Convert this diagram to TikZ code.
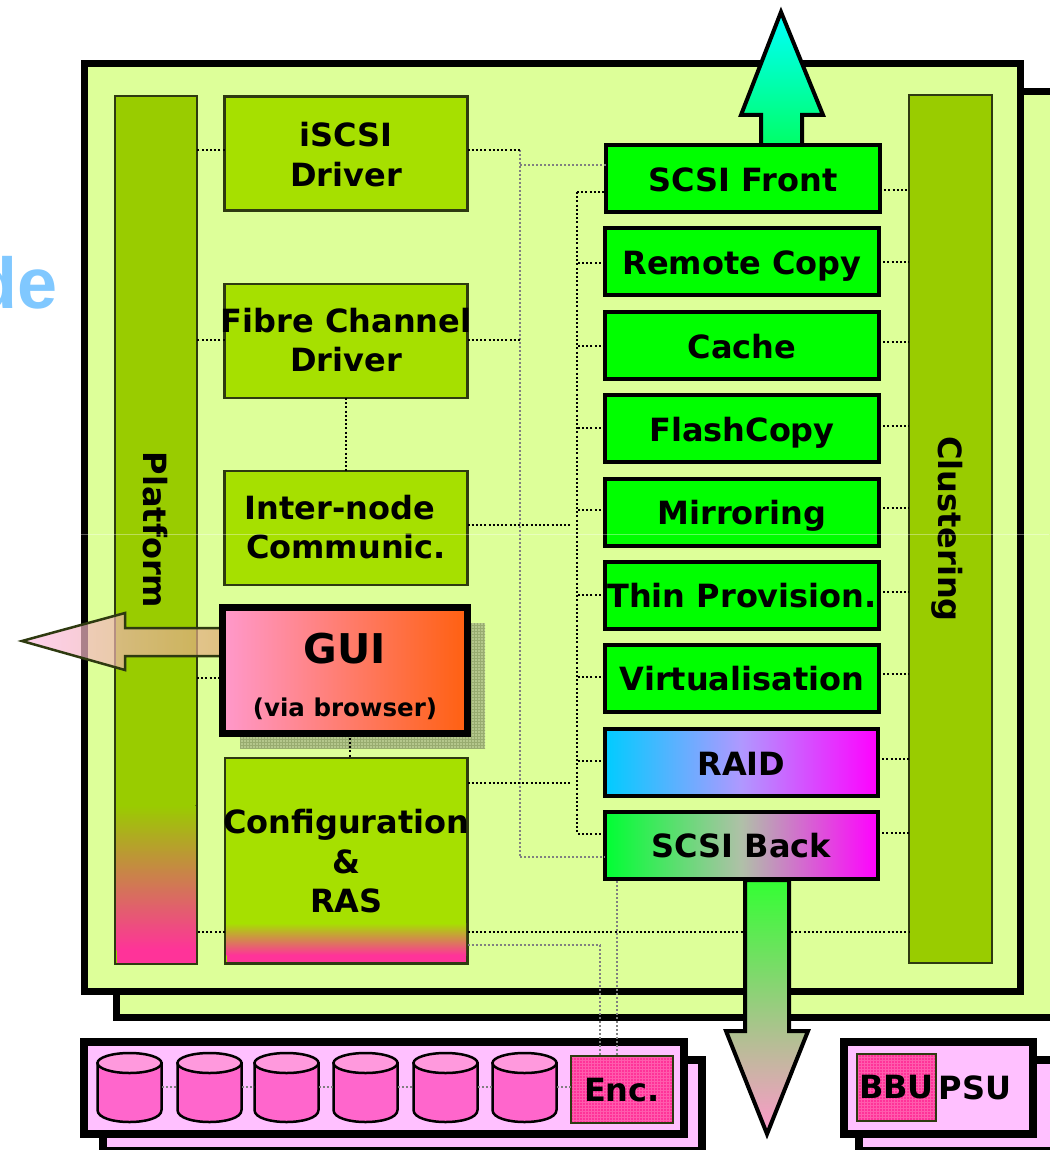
\documentclass[tikz,border=0pt]{standalone}
\usepackage{fontspec}
\setmainfont{DejaVu Sans}
\newfontfamily\arialb{Liberation Sans}[BoldFont={* Bold}]
\usetikzlibrary{patterns}
\definecolor{bg}{HTML}{DDFF99}
\definecolor{barc}{HTML}{99CC00}
\definecolor{limec}{HTML}{A6E000}
\definecolor{edge}{HTML}{2E3A10}
\definecolor{hotp}{HTML}{FF3399}
\definecolor{hotl}{HTML}{FF5CAD}
\definecolor{cylb}{HTML}{FF66CC}
\definecolor{cylt}{HTML}{FF99DD}
\definecolor{encl}{HTML}{FFC0FF}
\definecolor{titleb}{HTML}{80C8FF}
\definecolor{shad}{HTML}{B4C78C}
\definecolor{shadl}{HTML}{98AC70}
\definecolor{raidl}{HTML}{00CCFF}
\definecolor{raidm}{HTML}{B098FF}
\definecolor{backl}{HTML}{00FF33}
\definecolor{backm}{HTML}{B0C0A8}
\definecolor{guil}{HTML}{FF99CC}
\definecolor{guir}{HTML}{FF6010}
\definecolor{uparrow}{HTML}{00FF66}
\definecolor{dnarrow}{HTML}{33FF33}
\definecolor{dnarrowb}{HTML}{FF99CC}
\definecolor{lefta}{HTML}{FFBFE8}
\definecolor{leftb}{HTML}{E0A878}
\newcommand\tline[2]{\raisebox{-#1pt}[0pt][0pt]{\makebox[0pt][c]{#2}}}
\newcommand\boxn[7]{\pgfmathsetmacro\bx{(#3+#5)/2}\pgfmathsetmacro\by{(#4+#6)/2}\pgfmathsetmacro\bw{#5-#3}\pgfmathsetmacro\bh{#6-#4}\node[#1,minimum width=\bw pt,minimum height=\bh pt] (#2) at (\bx,\by) {#7};}
\tikzset{
  txt/.style={font=\fontsize{32}{39}\selectfont\bfseries,inner sep=0pt,outer sep=0pt},
  board/.style={draw=black,line width=7pt,fill=bg},
  pinkboard/.style={draw=black,line width=7.5pt,fill=encl},
  limebox/.style={txt,draw=edge,line width=2.5pt,fill=limec,rectangle},
  barbox/.style={txt,draw=edge,line width=2.5pt,fill=barc,rectangle},
  greenbox/.style={txt,draw=black,line width=4pt,fill=green,rectangle},
  gridbox/.style={txt,draw=edge,line width=2pt,rectangle,preaction={fill=hotp},pattern=grid,pattern color=hotl},
  dk/.style={black,line width=2pt,dash pattern=on 2pt off 2.2pt},
  gy/.style={black!50,line width=2.2pt,dash pattern=on 2pt off 2pt},
  drivebody/.style={draw=black,line width=2.5pt,fill=cylb},
  drivetop/.style={draw=black,line width=2.5pt,fill=cylt},
  bigarrow/.style={draw=black,line width=4pt,line join=miter},
}
\newcommand\drivecyl[2]{%
  \node[minimum width=65pt,minimum height=70pt,inner sep=0pt,outer sep=0pt] (#1) at (#2,1087) {};
  \path[drivebody] (#2-32,1063) -- (#2-32,1110) .. controls (#2-32,1126) and (#2+32,1126) .. (#2+32,1110) -- (#2+32,1063) -- cycle;
  \path[drivetop] (#2,1063) ellipse [x radius=32,y radius=10];
}
\begin{document}
\begin{tikzpicture}[x=1pt,y=-1pt]
\useasboundingbox (0,0) rectangle (1049,1150);
\fill[white] (0,0) rectangle (1049,1150);
\node[font=\arialb\fontsize{72}{72}\selectfont\bfseries,text=titleb,anchor=base east,inner sep=0pt] (title) at (57.5,308) {de};
% boards
\path[board] (116.5,91.5) rectangle (1065,1017.5);
\path[board] (84,64) rectangle (1020,991);
\path[pinkboard] (103,1060) rectangle (702,1151);
\path[pinkboard] (859,1060) rectangle (1065,1151);
\path[pinkboard] (84,1042) rectangle (684,1134);
\path[pinkboard] (844,1042) rectangle (1033,1134);
% coordinates of the buses
\coordinate (busAtop) at (520,150);
\coordinate (busAbot) at (520,857);
\coordinate (busBtop) at (577,192);
\coordinate (busBbot) at (577,833);
\coordinate (cfgend) at (572,783);
\coordinate (interend) at (571,525);
\coordinate (enc1) at (600,945);
\coordinate (enc2top) at (617,881);
% shadow of the GUI
\fill[shad] (240,623) rectangle (485,748);
\fill[pattern=grid,pattern color=shadl] (240,623) rectangle (485,748);
% bars
\node[barbox,rotate=-90,minimum width=868pt,minimum height=82pt] (plat) at (156,530) {\tline{12.5}{Platform}};
\node[barbox,rotate=-90,minimum width=868pt,minimum height=83pt] (clust) at (950.5,529) {\tline{12.5}{Clustering}};
\fill[top color=barc,bottom color=hotp] (116.5,805) rectangle (195.5,950);
\fill[hotp] (116.5,949.5) rectangle (195.5,962.5);
% left boxes
\boxn{limebox}{iscsi}{224.5}{96.5}{467.5}{210.5}{\tline{-6.5}{iSCSI}\tline{33}{Driver}}
\boxn{limebox}{fc}{224.5}{284}{467.5}{398}{\tline{-9}{Fibre Channel}\tline{30.5}{Driver}}
\boxn{limebox}{inter}{224.5}{471}{467.5}{585}{\tline{-8.5}{\hspace{-12pt}Inter-node}\tline{30.5}{Communic.}}
\boxn{limebox}{config}{225}{758}{467.5}{963.5}{\tline{-27.5}{Configuration}\tline{12.5}{\&}\tline{51.5}{RAS}}
\fill[top color=limec,bottom color=hotp] (226.5,923) rectangle (466,955);
\fill[hotp] (226.5,954.5) rectangle (466,962);
% dotted connectors behind the boxes
\draw[gy] (busAtop) -- (busAbot);
\draw[dk] (busBtop) -- (busBbot);
\draw[dk] ([yshift=3.5pt]iscsi.west) -- ([yshift=3.5pt]iscsi.west -| plat.north);
\draw[dk] ([yshift=3.5pt]iscsi.east) -- (busAtop);
\draw[dk] ([yshift=1pt]fc.west) -- ([yshift=1pt]fc.west -| plat.north);
\draw[dk] ([yshift=1pt]fc.east) -- ([yshift=1pt]fc.east -| busAtop);
\draw[dk] (fc.south) -- (inter.north);
\draw[dk] ([yshift=3pt]inter.east) -- (interend);
\draw[dk] (config.east |- cfgend) -- (cfgend);
\draw[dk] (config.west |- 0,932) -- (plat.north |- 0,932);
\draw[dk] (config.east |- 0,932) -- (clust.south |- 0,932);
\draw[gy] (config.east |- enc1) -- (enc1);
% top arrow
\path[bigarrow,top color=cyan,bottom color=uparrow] (781,12) -- (823,115) -- (802,115) -- (802,146) -- (761,146) -- (761,115) -- (741,115) -- cycle;
% green boxes
\boxn{greenbox}{front}{606}{145}{880}{212}{\tline{13}{SCSI Front}}
\boxn{greenbox}{remote}{605}{228}{879}{295}{\tline{13}{Remote Copy}}
\boxn{greenbox}{cache}{605}{312}{879}{379}{\tline{13}{Cache}}
\boxn{greenbox}{flash}{605}{395}{879}{462}{\tline{13}{FlashCopy}}
\boxn{greenbox}{mirror}{605}{479}{879}{546}{\tline{12}{Mirroring}}
\boxn{greenbox}{thin}{605}{562}{879}{629}{\tline{12}{Thin Provision.}}
\boxn{greenbox}{virt}{605}{645}{879}{712}{\tline{12}{Virtualisation}}
\boxn{txt,draw=black,line width=4pt,rectangle,left color=raidl,right color=magenta,middle color=raidm}{raid}{605}{729}{878}{796}{\tline{13}{RAID}}
\boxn{txt,draw=black,line width=4pt,rectangle,left color=backl,right color=magenta,middle color=backm}{back}{605}{812}{878}{879}{\tline{12}{SCSI Back}}
% green box connectors
\foreach \n/\ls/\rs in {remote/-1/0,cache/0/3.5,flash/1/3,mirror/3/5,thin/1/4,virt/2/5,raid/2/4,back/12/13}{
  \draw[dk] ([yshift=\ls pt]\n.west) -- ([yshift=\ls pt]\n.west -| busBtop);
  \draw[dk] ([yshift=\rs pt]\n.east) -- ([yshift=\rs pt]\n.east -| clust.south);
}
\draw[dk] (busBtop) -- (busBtop -| front.west);
\draw[dk] ([yshift=-12pt]front.east) -- ([yshift=-12pt]front.east -| clust.south);
\draw[gy] (busAtop |- 0,165) -- (front.west |- 0,165);
\draw[gy] (busAbot) -- (busAbot -| back.west);
% GUI
\draw[dk] (plat.north |- 0,678) -- (219,678);
\path[draw=edge,line width=2.5pt,left color=lefta,right color=leftb,fill opacity=.7] (22,641) -- (125,613) -- (125,628) -- (221,628) -- (221,656) -- (125,656) -- (125,670) -- cycle;
\boxn{txt,draw=black,line width=7pt,rectangle,left color=guil,right color=guir}{gui}{222.5}{607.5}{467.5}{733.5}{\tline{-7.5}{\fontsize{41}{41}\selectfont GUI}\tline{45.5}{\fontsize{24.5}{30}\selectfont (via browser)}}
\draw[dk] (gui.south -| 350,0) -- (350,757);
% drives
\boxn{gridbox}{enc}{571}{1055.5}{673}{1122.5}{\tline{12}{Enc.}}
\boxn{gridbox}{bbu}{857}{1054}{936}{1121}{\tline{11}{BBU}}
\node[txt] (psu) at (975,1076) {\tline{23}{PSU}};
\drivecyl{d1}{129.5}
\drivecyl{d2}{209.5}
\drivecyl{d3}{286.5}
\drivecyl{d4}{365.5}
\drivecyl{d5}{445.5}
\drivecyl{d6}{524.5}
\foreach \a/\b in {d1/d2,d2/d3,d3/d4,d4/d5,d5/d6,d6/enc}{
  \draw[gy] (\a.east) -- (\a.east -| \b.west);
}
% drops to the enclosure
\draw[gy] (enc1) -- (enc1 |- enc.north);
\draw[gy] (enc2top) -- (enc2top |- enc.north);
\draw[bigarrow,top color=dnarrow,bottom color=dnarrowb] (745,880) -- (789,880) -- (789,1031) -- (808,1031) -- (767,1134) -- (726,1031) -- (745,1031) -- cycle;
\draw[white,opacity=.35,line width=1pt] (80,534) -- (1049,534);
\end{tikzpicture}
\end{document}
